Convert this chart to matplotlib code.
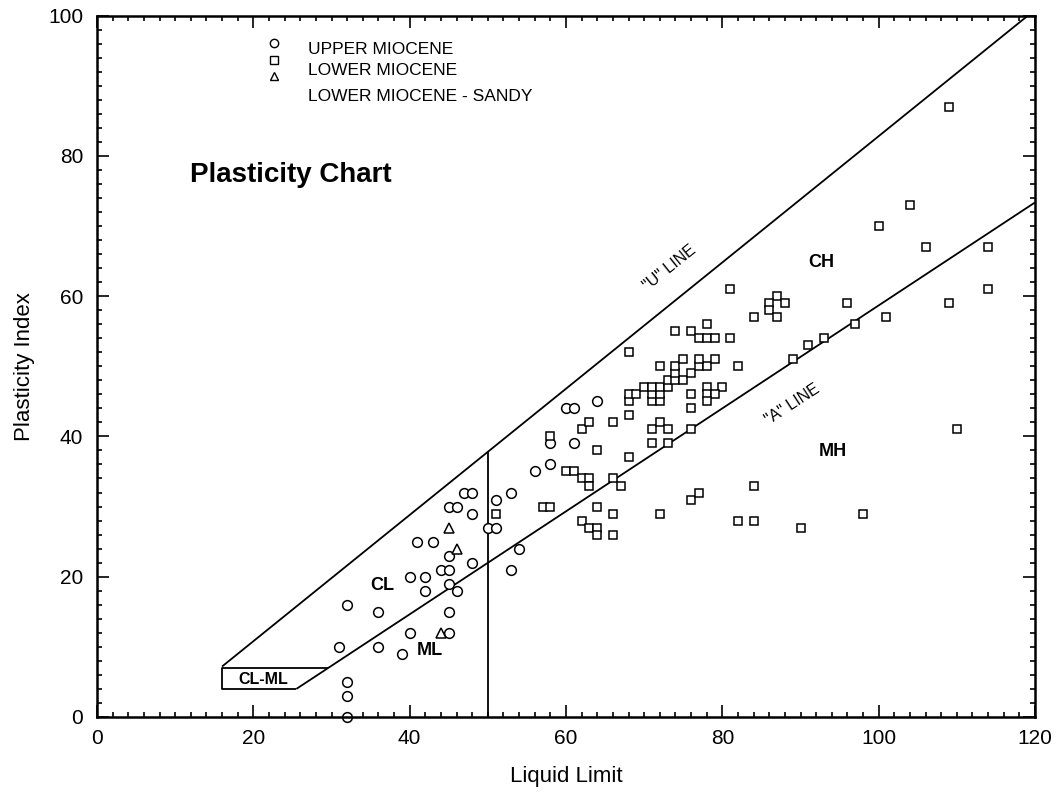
# -*- coding: utf-8 -*-
# plot.py
"""
Plasticity chart (Casagrande) with Miocene samples
"""
import numpy as np
import matplotlib
matplotlib.use('Agg')
import matplotlib.pyplot as plt
from matplotlib.ticker import MultipleLocator

## upper miocene samples (circles)
upper_ll = [32, 32, 32, 31, 32, 36, 36, 39, 40, 40, 42, 42, 41, 43, 44, 45,
            45, 45, 45, 45, 46, 45, 46, 47, 48, 48, 48, 50, 51, 51, 53, 54,
            53, 56, 58, 58, 60, 61, 64, 61]
upper_pi = [0, 3, 5, 10, 16, 15, 10, 9, 12, 20, 20, 18, 25, 25, 21, 21,
            23, 19, 15, 12, 18, 30, 30, 32, 32, 29, 22, 27, 27, 31, 32, 24,
            21, 35, 36, 39, 44, 44, 45, 39]

## lower miocene samples (squares)
lower_ll = [51, 57, 58, 58, 60, 61, 62, 63, 63, 66, 67, 62, 63, 66, 68, 64,
            68, 64, 66, 62, 63, 64, 64, 66, 72, 76, 77, 84, 82, 84, 90, 98,
            110, 71, 72, 73, 71, 73, 76, 76, 76, 68, 68, 69, 71, 71, 72, 72,
            70, 71, 72, 73, 73, 74, 75, 74, 76, 74, 77, 78, 72, 75, 77, 79,
            82, 68, 78, 80, 78, 79, 78, 74, 76, 78, 77, 78, 79, 81, 81, 84,
            87, 86, 88, 86, 87, 89, 91, 93, 97, 96, 101, 100, 104, 106, 109,
            114, 114, 109]
lower_pi = [29, 30, 30, 40, 35, 35, 34, 34, 33, 34, 33, 41, 42, 42, 43, 38,
            37, 30, 29, 28, 27, 27, 26, 26, 29, 31, 32, 33, 28, 28, 27, 29,
            41, 41, 42, 41, 39, 39, 41, 44, 46, 45, 46, 46, 45, 46, 45, 46,
            47, 47, 47, 47, 48, 48, 48, 49, 49, 50, 50, 50, 50, 51, 51, 51,
            50, 52, 47, 47, 46, 46, 45, 55, 55, 56, 54, 54, 54, 54, 61, 57,
            60, 59, 59, 58, 57, 51, 53, 54, 56, 59, 57, 70, 73, 67, 87,
            67, 61, 59]

## lower miocene sandy samples (triangles)
sandy_ll = [44, 45, 46]
sandy_pi = [12, 27, 24]

## reference lines
u_line_ll = [16, 120]
u_line_pi = [7.2, 100.8]
a_line_ll = [25.5, 120]
a_line_pi = [4, 73.35]
clml_ll = [25.5, 16, 16, 29.6]
clml_pi = [4, 4, 7, 7]
ll50_ll = [50, 50]
ll50_pi = [0, 37.8]

## zone labels
zone_names = ['CL', 'ML', 'CH', 'MH', 'CL-ML']
zone_ll = [36.5, 42.6, 92.7, 94.1, 21.3]
zone_pi = [18.8, 9.5, 64.8, 37.8, 5.3]

legend_names = ['UPPER MIOCENE', 'LOWER MIOCENE', 'LOWER MIOCENE - SANDY']

FONT = ['Liberation Sans', 'DejaVu Sans']


def make_chart(filename):
    """
    make_chart
    """
    fig = plt.figure(figsize=(10.6, 7.92), dpi=100)
    ax = fig.add_axes([97 / 1060, 75 / 792, 938 / 1060, 701.5 / 792])

    ## lines
    kw = dict(color='black', lw=1.3, solid_capstyle='butt')
    ax.plot(u_line_ll, u_line_pi, **kw)
    ax.plot(a_line_ll, a_line_pi, **kw)
    ax.plot(clml_ll, clml_pi, **kw)
    ax.plot(ll50_ll, ll50_pi, **kw)

    ## samples
    mk = dict(ls='none', mfc='white', mec='black', mew=1.1, clip_on=False)
    ax.plot(upper_ll, upper_pi, marker='o', ms=7.0, **mk)
    ax.plot(lower_ll, lower_pi, marker='s', ms=6.2, **mk)
    ax.plot(sandy_ll, sandy_pi, marker='^', ms=6.5, **mk)

    ## zone labels
    for name, x, y in zip(zone_names, zone_ll, zone_pi):
        size = 11.5 if name == 'CL-ML' else 13
        ax.text(x, y, name, ha='center', va='center', fontsize=size,
                fontweight='bold', family=FONT)
    ax.text(73.2, 64.0, '"U" LINE', ha='center', va='center', fontsize=11.5,
            rotation=38.8, family=FONT)
    ax.text(89.0, 44.6, '"A" LINE', ha='center', va='center', fontsize=11.5,
            rotation=33.1, family=FONT)

    ## title
    ax.text(11.9, 77.3, 'Plasticity Chart', ha='left', va='center',
            fontsize=20, fontweight='bold', family=FONT)

    ## legend (drawn inside the plot like the original)
    leg_marker_pi = [96.1, 93.7, 91.4]
    leg_text_pi = [95.2, 92.1, 88.5]
    for m, ms, ym in zip(['o', 's', '^'], [6.0, 5.5, 5.5], leg_marker_pi):
        ax.plot([22.6], [ym], marker=m, ms=ms, ls='none', mfc='white',
                mec='black', mew=1.0)
    for name, yt in zip(legend_names, leg_text_pi):
        ax.text(27.0, yt, name, ha='left', va='center', fontsize=12.5,
                family=FONT)

    ## axes
    ax.set_xlim(0, 120)
    ax.set_ylim(0, 100)
    ax.xaxis.set_major_locator(MultipleLocator(20))
    ax.yaxis.set_major_locator(MultipleLocator(20))
    ax.xaxis.set_minor_locator(MultipleLocator(2))
    ax.yaxis.set_minor_locator(MultipleLocator(2))
    ax.tick_params(which='both', direction='in', top=True, right=True,
                   width=1.2, labelsize=15)
    ax.tick_params(which='major', length=8.5)
    ax.tick_params(which='minor', length=3.5)
    ax.tick_params(axis='x', pad=9)
    ax.tick_params(axis='y', pad=10)
    for lab in ax.get_xticklabels() + ax.get_yticklabels():
        lab.set_family(FONT)
    for sp in ax.spines.values():
        sp.set_linewidth(1.8)

    ax.set_xlabel('Liquid Limit', fontsize=16, family=FONT)
    ax.set_ylabel('Plasticity Index', fontsize=16, family=FONT)
    ax.xaxis.set_label_coords(0.5, -0.07)
    ax.yaxis.set_label_coords(-0.066, 0.5)

    fig.savefig(filename, dpi=100, facecolor='white')
    plt.close(fig)
    return True


if __name__ == "__main__":
    make_chart('out.png')
